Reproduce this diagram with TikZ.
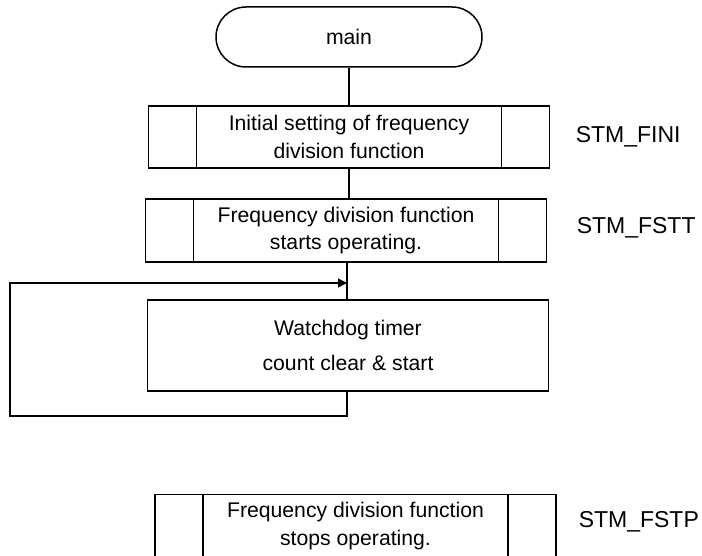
\documentclass[tikz,border=0pt]{standalone}
\usepackage{fontspec}
\setmainfont{Liberation Sans}
\usepackage{tikz}
\usetikzlibrary{positioning,arrows.meta}

\newcommand{\boxfont}{\fontsize{10.6}{13.6}\selectfont}
\newcommand{\tagfont}{\fontsize{11.5}{14}\selectfont}

\tikzset{
  proc/.style={rectangle, draw, line width=0.75pt, minimum width=200.5pt, minimum height=31pt,
               inner sep=0pt, align=center, font=\boxfont},
  subproc/.style={proc, path picture={
      \draw [line width=0.75pt] ([xshift=24pt]path picture bounding box.north west) -- ([xshift=24pt]path picture bounding box.south west);
      \draw [line width=0.75pt] ([xshift=-24pt]path picture bounding box.north east) -- ([xshift=-24pt]path picture bounding box.south east);}},
  term/.style={rectangle, draw, line width=0.75pt, rounded corners=15pt, minimum width=133pt,
               minimum height=30pt, font=\boxfont},
  tag/.style={anchor=west, inner sep=0pt, font=\tagfont},
}

\begin{document}
\begin{tikzpicture}[x=0.5pt, y=-0.5pt, line width=0.75pt]
      \useasboundingbox (0,0) rectangle (702,556);
      %\draw [dotted] (0,0) grid[step=50] (702,556);
      \node [term]                        (main) at (349,  37) {main};
      \node [subproc]                       (b1) at (349, 137) {Initial setting of frequency\\division function};
      \node [tag]                           (t1) at (575, 137) {STM\_FINI};
      \node [subproc, minimum height=31.5pt] (b2) at (346, 230.5) {Frequency division function\\starts operating.};
      \node [tag]                           (t2) at (576, 228) {STM\_FSTT};
      \node [proc, minimum height=45.5pt, font=\fontsize{10.6}{17.5}\selectfont]
                                            (b3) at (348, 345.5) {Watchdog timer\\count clear \& start};
      \node [subproc, minimum height=31.5pt] (b4) at (355.5, 526) {Frequency division function\\stops operating.};
      \node [tag]                           (t4) at (578, 522) {STM\_FSTP};
      \coordinate (join) at (347, 283);
      \coordinate (back) at ( 10, 416);
      \draw (main.south) -- (main.south |- b1.north);
      \draw (b1.south) -- (b1.south |- b2.north);
      \draw (join |- b2.south) -- (join |- b3.north);
      \draw [-{Triangle[length=4.5pt, width=4.5pt]}] (join |- b3.south) |- (back) |- (join);
\end{tikzpicture}
\end{document}
